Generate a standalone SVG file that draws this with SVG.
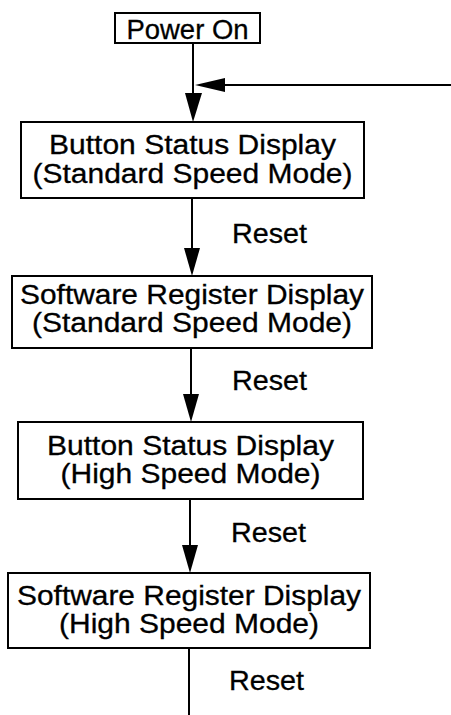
<svg xmlns="http://www.w3.org/2000/svg" width="451" height="715" viewBox="0 0 451 715">
<style>
.box{fill:#fff;stroke:#000;stroke-width:2}
.t{font-family:"Liberation Sans",Arial,sans-serif;font-size:27px;fill:#000;stroke:#000;stroke-width:0.3;text-anchor:middle}
.r{font-family:"Liberation Sans",Arial,sans-serif;font-size:27px;fill:#000;stroke:#000;stroke-width:0.3}
.ln{stroke:#000;stroke-width:2;fill:none}
.ah{fill:#000}
</style>
<rect width="451" height="715" fill="#fff"/>
<g id="connectors">
<line class="ln" x1="193" y1="43" x2="193" y2="100"/>
<polygon class="ah" points="185,93 202,93 193,122"/>
<line class="ln" x1="451" y1="85" x2="220" y2="85"/>
<polygon class="ah" points="225,78 225,92 195,85"/>
<line class="ln" x1="192" y1="198" x2="192" y2="255"/>
<polygon class="ah" points="184,248 200,248 192,276"/>
<text class="r" x="232" y="243" textLength="75" lengthAdjust="spacingAndGlyphs">Reset</text>
<line class="ln" x1="191" y1="348" x2="191" y2="400"/>
<polygon class="ah" points="183,394 199,394 191,422"/>
<text class="r" x="232" y="390" textLength="75" lengthAdjust="spacingAndGlyphs">Reset</text>
<line class="ln" x1="190" y1="499" x2="190" y2="550"/>
<polygon class="ah" points="182,545 198,545 190,573"/>
<text class="r" x="231" y="542" textLength="75" lengthAdjust="spacingAndGlyphs">Reset</text>
<line class="ln" x1="189" y1="648" x2="189" y2="715"/>
<text class="r" x="229" y="690" textLength="75" lengthAdjust="spacingAndGlyphs">Reset</text>
</g>
<g id="power-on">
<rect class="box" x="115" y="13" width="145" height="30"/>
<text class="t" x="187.5" y="38.5" textLength="122" lengthAdjust="spacingAndGlyphs">Power On</text>
</g>
<g id="button-standard">
<rect class="box" x="21" y="122" width="343" height="76"/>
<text class="t"><tspan x="192.5" y="154" textLength="287" lengthAdjust="spacingAndGlyphs">Button Status Display</tspan><tspan x="192.5" y="183" textLength="320" lengthAdjust="spacingAndGlyphs">(Standard Speed Mode)</tspan></text>
</g>
<g id="software-standard">
<rect class="box" x="12" y="276" width="360" height="72"/>
<text class="t"><tspan x="192" y="304" textLength="344" lengthAdjust="spacingAndGlyphs">Software Register Display</tspan><tspan x="192" y="332" textLength="320" lengthAdjust="spacingAndGlyphs">(Standard Speed Mode)</tspan></text>
</g>
<g id="button-high">
<rect class="box" x="18" y="422" width="345" height="77"/>
<text class="t"><tspan x="190.5" y="455" textLength="287" lengthAdjust="spacingAndGlyphs">Button Status Display</tspan><tspan x="190.5" y="483" textLength="260" lengthAdjust="spacingAndGlyphs">(High Speed Mode)</tspan></text>
</g>
<g id="software-high">
<rect class="box" x="8" y="573" width="362" height="75"/>
<text class="t"><tspan x="189" y="605" textLength="344" lengthAdjust="spacingAndGlyphs">Software Register Display</tspan><tspan x="189" y="633" textLength="260" lengthAdjust="spacingAndGlyphs">(High Speed Mode)</tspan></text>
</g>
</svg>
